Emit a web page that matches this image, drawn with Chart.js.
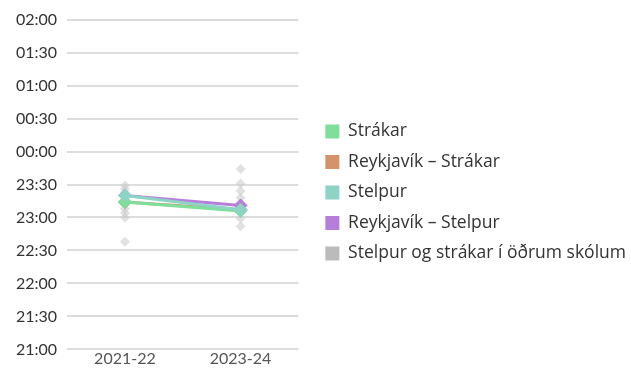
<!DOCTYPE html>
<html>
<head>
    <title>Háttatími</title>
    <script src="https://cdn.jsdelivr.net/npm/chart.js"></script>
    <style>
        body {
            margin: 0;
            background: #fff;
        }
        #wrap {
            width: 631px;
            height: 369px;
        }
    </style>
</head>
<body>
    <div id="wrap"><canvas id="bedtime"></canvas></div>

    <script>
        // Skólaár
        const years = ['2021-22', '2023-24'];

        // Meðal háttatími (klst:mín)
        const strakar = ['23:14', '23:06'];
        const rvkStrakar = ['23:14', '23:07'];
        const stelpur = ['23:20', '23:07'];
        const rvkStelpur = ['23:20', '23:11'];

        // Aðrir skólar
        const otherSchools2122 = ['23:29', '23:26', '23:23', '23:19', '23:16', '23:12', '23:08', '23:04', '23:00', '22:38'];
        const otherSchools2324 = ['23:44', '23:31', '23:24', '23:18', '23:12', '23:05', '22:59', '22:52'];

        // y-ás: 21:00 til 02:00
        const yMin = '21:00';
        const yMax = '02:00';
        const yStep = 30;

        // klukka -> mínútur frá hádegi á fyrri degi, svo 02:00 lendi eftir 23:00
        function toMin(t) {
            const [h, m] = t.split(':').map(Number);
            const mins = h * 60 + m;
            return h < 12 ? mins + 24 * 60 : mins;
        }
        function fmt(v) {
            const h = Math.floor(v / 60) % 24;
            const m = v % 60;
            return String(h).padStart(2, '0') + ':' + String(m).padStart(2, '0');
        }

        const font = { family: 'Lato', size: 16 };

        function lineSet(label, color, values, order) {
            return {
                label: label,
                data: values.map(toMin),
                borderColor: color,
                backgroundColor: color,
                borderWidth: 3,
                pointStyle: 'rectRot',
                pointRadius: 6.5,
                pointBorderWidth: 1,
                fill: false,
                tension: 0,
                order: order
            };
        }

        const others = otherSchools2122.map(t => ({ x: years[0], y: toMin(t) }))
            .concat(otherSchools2324.map(t => ({ x: years[1], y: toMin(t) })));

        const chart = new Chart(document.getElementById('bedtime'), {
            type: 'line',
            data: {
                labels: years,
                datasets: [
                    lineSet('Strákar', '#7ddf9a', strakar, 1),
                    lineSet('Reykjavík – Strákar', '#d69369', rvkStrakar, 2),
                    lineSet('Stelpur', '#8ed4c6', stelpur, 0),
                    lineSet('Reykjavík – Stelpur', '#b77ddb', rvkStelpur, 3),
                    {
                        label: 'Stelpur og strákar í öðrum skólum',
                        data: others,
                        showLine: false,
                        pointStyle: 'rectRot',
                        pointRadius: 5,
                        borderWidth: 0,
                        backgroundColor: 'rgba(200,200,200,0.55)',
                        borderColor: 'rgba(200,200,200,0.55)',
                        order: 10
                    }
                ]
            },
            options: {
                animation: false,
                responsive: true,
                maintainAspectRatio: false,
                layout: { padding: { top: 16, right: -5, left: 6, bottom: 0 } },
                plugins: {
                    tooltip: { enabled: false },
                    legend: {
                        position: 'right',
                        maxWidth: 360,
                        labels: {
                            font: { family: 'Open Sans', size: 17.5 },
                            color: '#333',
                            boxWidth: 14,
                            boxHeight: 14,
                            padding: 13,
                            generateLabels: function (c) {
                                return c.data.datasets.map((ds, i) => ({
                                    text: ds.label,
                                    fillStyle: i === 4 ? '#bbbbbb' : ds.borderColor,
                                    strokeStyle: 'rgba(0,0,0,0)',
                                    lineWidth: 0,
                                    fontColor: '#333',
                                    datasetIndex: i
                                }));
                            }
                        }
                    }
                },
                scales: {
                    x: {
                        offset: true,
                        grid: { display: false, drawTicks: false },
                        border: { display: false },
                        ticks: { font: font, color: '#555', padding: 0 }
                    },
                    y: {
                        min: toMin(yMin),
                        max: toMin(yMax),
                        ticks: { stepSize: yStep, font: font, color: '#333', padding: 10, callback: v => fmt(v) },
                        grid: { color: '#dddddd', lineWidth: 2, drawTicks: false },
                        border: { display: false }
                    },
                    // tómur ás sem heldur bili milli grafs og skýringa
                    gap: {
                        position: 'right',
                        grid: { display: false, drawTicks: false },
                        border: { display: false },
                        ticks: { display: false },
                        afterFit: s => { s.width = 14; }
                    }
                }
            }
        });
    </script>
</body>
</html>
